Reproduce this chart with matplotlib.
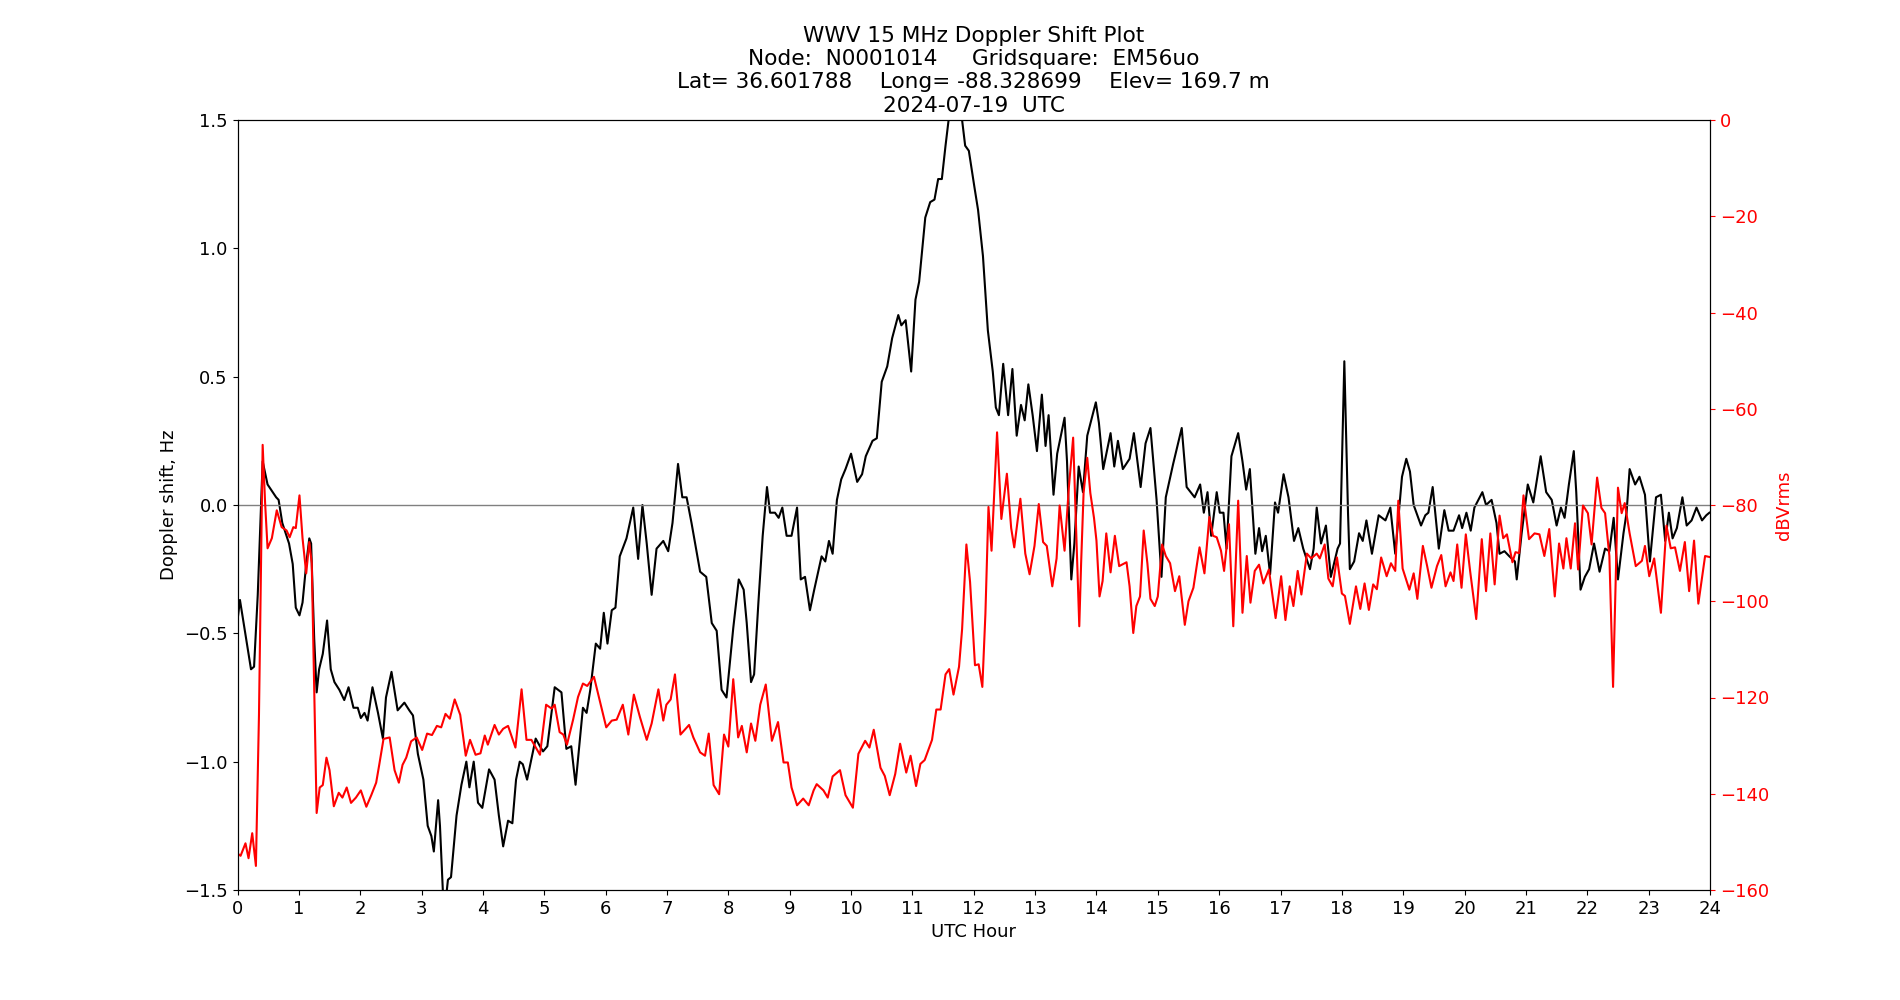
import matplotlib
matplotlib.use("Agg")
import matplotlib.pyplot as plt

plt.rcParams["font.size"] = 13

# Doppler shift trace (UTC hour, Hz)
doppler_hours = [
    0.00, 0.04, 0.22, 0.27, 0.33, 0.41, 0.49, 0.63, 0.67, 0.73, 0.84, 0.90, 0.95, 1.01, 1.06,
    1.12, 1.17, 1.20, 1.25, 1.29, 1.33, 1.39, 1.46, 1.52, 1.58, 1.66, 1.74, 1.81, 1.89, 1.96,
    2.01, 2.07, 2.12, 2.20, 2.29, 2.37, 2.42, 2.51, 2.61, 2.72, 2.80, 2.86, 2.94, 3.03, 3.10,
    3.16, 3.20, 3.27, 3.30, 3.35, 3.39, 3.43, 3.48, 3.57, 3.65, 3.73, 3.78, 3.85, 3.92, 3.99,
    4.10, 4.19, 4.26, 4.33, 4.41, 4.48, 4.54, 4.60, 4.65, 4.72, 4.79, 4.86, 4.93, 4.98, 5.05,
    5.17, 5.28, 5.36, 5.44, 5.51, 5.63, 5.69, 5.75, 5.84, 5.91, 5.97, 6.03, 6.10, 6.16, 6.23,
    6.34, 6.45, 6.53, 6.60, 6.67, 6.75, 6.83, 6.94, 7.02, 7.09, 7.18, 7.25, 7.32, 7.40, 7.54,
    7.64, 7.73, 7.81, 7.89, 7.97, 8.08, 8.17, 8.25, 8.30, 8.37, 8.42, 8.49, 8.56, 8.63, 8.68,
    8.76, 8.82, 8.88, 8.95, 9.03, 9.12, 9.18, 9.25, 9.33, 9.40, 9.52, 9.58, 9.64, 9.70, 9.77,
    9.84, 9.91, 10.00, 10.10, 10.18, 10.24, 10.35, 10.42, 10.50, 10.59, 10.67, 10.77, 10.82,
    10.89, 10.98, 11.05, 11.11, 11.21, 11.29, 11.36, 11.42, 11.48, 11.54, 11.59, 11.65, 11.74,
    11.81, 11.86, 11.92, 12.01, 12.07, 12.15, 12.23, 12.31, 12.36, 12.41, 12.48, 12.56, 12.63,
    12.70, 12.77, 12.83, 12.89, 12.96, 13.03, 13.11, 13.17, 13.22, 13.30, 13.36, 13.48, 13.52,
    13.59, 13.64, 13.71, 13.78, 13.85, 13.99, 14.04, 14.11, 14.23, 14.29, 14.35, 14.43, 14.54,
    14.61, 14.72, 14.80, 14.88, 14.98, 15.06, 15.13, 15.25, 15.39, 15.47, 15.60, 15.69, 15.75,
    15.81, 15.87, 15.96, 16.01, 16.07, 16.12, 16.20, 16.31, 16.38, 16.44, 16.50, 16.59, 16.65,
    16.70, 16.76, 16.83, 16.91, 16.96, 17.05, 17.13, 17.22, 17.29, 17.37, 17.48, 17.54, 17.59,
    17.66, 17.74, 17.82, 17.93, 17.97, 18.04, 18.10, 18.13, 18.20, 18.28, 18.34, 18.40, 18.49,
    18.60, 18.71, 18.79, 18.87, 18.98, 19.05, 19.11, 19.17, 19.29, 19.36, 19.41, 19.48, 19.58,
    19.67, 19.74, 19.82, 19.91, 19.96, 20.03, 20.10, 20.16, 20.29, 20.35, 20.44, 20.52, 20.57,
    20.65, 20.73, 20.82, 20.85, 20.93, 21.03, 21.12, 21.24, 21.33, 21.42, 21.50, 21.57, 21.63,
    21.70, 21.78, 21.82, 21.89, 21.96, 22.03, 22.11, 22.20, 22.29, 22.36, 22.43, 22.50, 22.59,
    22.64, 22.69, 22.78, 22.85, 22.94, 23.02, 23.12, 23.20, 23.27, 23.33, 23.39, 23.46, 23.55,
    23.62, 23.70, 23.78, 23.87, 23.94, 23.99,
]
doppler_hz = [
    -0.45, -0.37, -0.64, -0.63, -0.35, 0.17, 0.08, 0.03, 0.02, -0.07, -0.15, -0.23, -0.40, -0.43, -0.38,
    -0.23, -0.13, -0.15, -0.52, -0.73, -0.64, -0.58, -0.45, -0.64, -0.69, -0.72, -0.76, -0.71, -0.79, -0.79,
    -0.83, -0.81, -0.84, -0.71, -0.81, -0.91, -0.75, -0.65, -0.80, -0.77, -0.80, -0.82, -0.97, -1.07, -1.25,
    -1.29, -1.35, -1.15, -1.25, -1.52, -1.55, -1.46, -1.45, -1.21, -1.09, -1.00, -1.10, -1.00, -1.16, -1.18,
    -1.03, -1.07, -1.21, -1.33, -1.23, -1.24, -1.07, -1.00, -1.01, -1.07, -0.99, -0.91, -0.94, -0.96, -0.94,
    -0.71, -0.73, -0.95, -0.94, -1.09, -0.79, -0.81, -0.72, -0.54, -0.56, -0.42, -0.54, -0.41, -0.40, -0.20,
    -0.13, -0.01, -0.21, 0.00, -0.15, -0.35, -0.17, -0.14, -0.18, -0.07, 0.16, 0.03, 0.03, -0.07, -0.26,
    -0.28, -0.46, -0.49, -0.72, -0.75, -0.48, -0.29, -0.33, -0.46, -0.69, -0.66, -0.38, -0.12, 0.07, -0.03,
    -0.03, -0.05, -0.01, -0.12, -0.12, -0.01, -0.29, -0.28, -0.41, -0.33, -0.20, -0.22, -0.14, -0.19, 0.02,
    0.10, 0.14, 0.20, 0.09, 0.12, 0.19, 0.25, 0.26, 0.48, 0.54, 0.65, 0.74, 0.70,
    0.72, 0.52, 0.80, 0.87, 1.12, 1.18, 1.19, 1.27, 1.27, 1.40, 1.50, 1.56, 1.56,
    1.50, 1.40, 1.38, 1.24, 1.15, 0.97, 0.68, 0.52, 0.38, 0.35, 0.55, 0.35, 0.53,
    0.27, 0.39, 0.33, 0.47, 0.35, 0.21, 0.43, 0.23, 0.35, 0.04, 0.20, 0.34, 0.17,
    -0.29, -0.15, 0.15, 0.05, 0.27, 0.40, 0.32, 0.14, 0.28, 0.15, 0.25, 0.14, 0.18,
    0.28, 0.07, 0.24, 0.30, 0.02, -0.28, 0.03, 0.16, 0.30, 0.07, 0.03, 0.08, -0.03,
    0.05, -0.12, 0.05, -0.03, -0.03, -0.17, 0.19, 0.28, 0.17, 0.06, 0.14, -0.19, -0.09,
    -0.18, -0.12, -0.27, 0.01, -0.03, 0.12, 0.03, -0.14, -0.09, -0.17, -0.25, -0.17, -0.01,
    -0.15, -0.08, -0.28, -0.17, -0.15, 0.56, -0.03, -0.25, -0.22, -0.11, -0.14, -0.06, -0.19,
    -0.04, -0.06, -0.01, -0.19, 0.11, 0.18, 0.13, 0.00, -0.08, -0.04, -0.03, 0.07, -0.17,
    -0.02, -0.10, -0.10, -0.04, -0.09, -0.03, -0.10, -0.01, 0.05, 0.00, 0.02, -0.07, -0.19,
    -0.18, -0.20, -0.22, -0.29, -0.11, 0.08, 0.01, 0.19, 0.05, 0.02, -0.08, -0.01, -0.05,
    0.08, 0.21, 0.05, -0.33, -0.28, -0.25, -0.15, -0.26, -0.17, -0.18, -0.05, -0.29, -0.11,
    -0.03, 0.14, 0.08, 0.11, 0.04, -0.22, 0.03, 0.04, -0.14, -0.03, -0.13, -0.09, 0.03,
    -0.08, -0.06, -0.01, -0.06, -0.04, -0.03,
]

# Received signal level trace (UTC hour, dBVrms)
power_hours = [
    0.00, 0.05, 0.13, 0.18, 0.24, 0.30, 0.35, 0.41, 0.45, 0.49, 0.56, 0.64, 0.72, 0.80, 0.85,
    0.91, 0.95, 1.01, 1.06, 1.12, 1.17, 1.21, 1.25, 1.29, 1.34, 1.39, 1.45, 1.50, 1.57, 1.65,
    1.71, 1.78, 1.85, 1.93, 2.01, 2.10, 2.18, 2.26, 2.31, 2.38, 2.48, 2.56, 2.63, 2.69, 2.75,
    2.83, 2.92, 3.01, 3.09, 3.17, 3.25, 3.32, 3.39, 3.46, 3.54, 3.63, 3.72, 3.79, 3.88, 3.96,
    4.03, 4.08, 4.19, 4.26, 4.33, 4.41, 4.53, 4.63, 4.71, 4.79, 4.93, 5.03, 5.12, 5.17, 5.25,
    5.31, 5.37, 5.47, 5.55, 5.63, 5.70, 5.81, 5.92, 6.01, 6.10, 6.18, 6.28, 6.37, 6.46, 6.56,
    6.67, 6.75, 6.86, 6.94, 6.99, 7.06, 7.13, 7.22, 7.36, 7.43, 7.54, 7.62, 7.68, 7.76, 7.85,
    7.93, 8.00, 8.08, 8.16, 8.22, 8.30, 8.37, 8.44, 8.52, 8.61, 8.71, 8.81, 8.90, 8.97, 9.03,
    9.12, 9.22, 9.31, 9.39, 9.44, 9.55, 9.62, 9.70, 9.82, 9.91, 10.03, 10.12, 10.23, 10.30,
    10.37, 10.48, 10.55, 10.63, 10.72, 10.80, 10.90, 10.97, 11.06, 11.13, 11.20, 11.32, 11.39,
    11.46, 11.54, 11.60, 11.67, 11.76, 11.81, 11.88, 11.94, 12.02, 12.08, 12.14, 12.19, 12.24,
    12.29, 12.38, 12.45, 12.54, 12.61, 12.66, 12.76, 12.84, 12.91, 12.99, 13.06, 13.13, 13.19,
    13.28, 13.35, 13.40, 13.48, 13.55, 13.62, 13.67, 13.72, 13.75, 13.79, 13.85, 13.90, 13.96,
    14.00, 14.05, 14.10, 14.16, 14.23, 14.30, 14.37, 14.49, 14.54, 14.60, 14.65, 14.71, 14.77,
    14.83, 14.88, 14.95, 15.00, 15.07, 15.13, 15.20, 15.28, 15.35, 15.44, 15.50, 15.58, 15.68,
    15.76, 15.84, 15.90, 15.96, 16.03, 16.08, 16.16, 16.23, 16.31, 16.38, 16.45, 16.51, 16.58,
    16.65, 16.72, 16.81, 16.92, 17.01, 17.08, 17.15, 17.21, 17.28, 17.34, 17.43, 17.50, 17.59,
    17.64, 17.72, 17.78, 17.85, 17.92, 18.00, 18.05, 18.13, 18.23, 18.30, 18.37, 18.44, 18.51,
    18.57, 18.64, 18.73, 18.80, 18.87, 18.92, 18.99, 19.10, 19.17, 19.23, 19.32, 19.39, 19.46,
    19.55, 19.62, 19.69, 19.77, 19.82, 19.88, 19.95, 20.02, 20.09, 20.19, 20.28, 20.35, 20.42,
    20.49, 20.57, 20.63, 20.69, 20.78, 20.83, 20.89, 20.96, 21.05, 21.14, 21.22, 21.30, 21.38,
    21.47, 21.54, 21.61, 21.66, 21.73, 21.80, 21.85, 21.93, 22.01, 22.07, 22.16, 22.23, 22.29,
    22.36, 22.42, 22.47, 22.50, 22.56, 22.61, 22.69, 22.79, 22.89, 22.94, 23.01, 23.09, 23.20,
    23.29, 23.36, 23.43, 23.51, 23.59, 23.66, 23.74, 23.81, 23.92, 23.99,
]
power_db = [
    -152.4, -152.9, -150.3, -153.4, -148.2, -155.0, -123.6, -67.5, -79.6, -89.0, -86.9, -81.1, -84.6, -85.3, -86.7,
    -84.6, -84.8, -78.0, -86.9, -94.2, -87.7, -92.1, -118.3, -144.0, -138.7, -138.2, -132.5, -135.1, -142.6, -139.8,
    -140.8, -138.7, -141.9, -140.8, -139.3, -142.7, -140.3, -137.7, -134.0, -128.6, -128.3, -135.1, -137.7, -134.0, -132.5,
    -129.1, -128.3, -130.9, -127.5, -127.8, -125.9, -126.2, -123.4, -124.4, -120.4, -123.6, -132.1, -128.8, -131.9, -131.6,
    -127.9, -129.8, -125.7, -127.7, -126.5, -125.9, -130.4, -118.3, -128.8, -128.8, -131.9, -121.5, -122.3, -121.5, -127.2,
    -127.7, -129.8, -124.6, -119.9, -117.1, -117.6, -115.7, -121.5, -126.2, -124.8, -124.6, -121.5, -127.7, -119.4, -124.1,
    -128.8, -125.4, -118.3, -124.8, -121.5, -120.4, -115.2, -127.7, -125.7, -128.3, -131.4, -132.1, -127.5, -138.2, -140.1,
    -127.7, -130.2, -116.2, -128.3, -125.9, -131.4, -125.4, -129.0, -121.5, -117.3, -129.0, -125.1, -133.5, -133.5, -138.7,
    -142.4, -141.0, -142.4, -139.3, -138.0, -139.3, -140.8, -136.4, -135.1, -140.3, -142.9, -131.7, -129.0, -130.4,
    -126.7, -134.6, -136.3, -140.3, -135.9, -129.6, -135.6, -132.1, -138.4, -133.8, -133.0, -128.8, -122.5,
    -122.5, -115.2, -114.1, -119.4, -113.6, -105.8, -88.2, -96.0, -113.3, -113.1, -117.8, -102.6, -80.4,
    -89.5, -64.9, -82.9, -73.5, -84.8, -88.8, -78.7, -90.1, -94.4, -88.5, -79.8, -87.7, -88.5,
    -96.9, -91.1, -80.1, -89.5, -76.4, -66.0, -85.9, -105.2, -92.1, -77.5, -70.2, -77.5, -82.7,
    -87.4, -99.0, -95.8, -85.9, -94.0, -86.4, -92.7, -91.9, -96.9, -106.6, -101.0, -99.0, -85.3,
    -92.1, -99.5, -101.0, -99.0, -88.2, -90.6, -92.1, -97.9, -94.8, -104.9, -100.0, -97.2, -88.8,
    -94.2, -82.5, -86.4, -86.7, -89.5, -93.7, -84.0, -105.2, -79.1, -102.4, -90.6, -100.3, -93.7,
    -92.4, -96.3, -93.4, -103.5, -94.8, -103.9, -96.9, -101.0, -93.7, -98.6, -90.1, -91.1, -90.1,
    -91.1, -88.2, -95.3, -96.9, -90.9, -98.4, -98.9, -104.7, -96.9, -101.6, -96.3, -101.8, -96.5,
    -97.5, -90.9, -94.8, -92.1, -93.7, -79.1, -93.2, -97.6, -94.2, -99.5, -88.5, -92.7, -97.2,
    -92.7, -90.4, -96.9, -94.0, -95.8, -88.2, -97.2, -86.1, -93.7, -103.7, -87.1, -97.9, -85.9,
    -96.5, -82.2, -86.9, -86.1, -91.9, -89.8, -90.0, -78.0, -87.1, -85.9, -86.1, -90.6, -85.0,
    -99.0, -88.0, -93.2, -86.9, -93.2, -83.8, -93.4, -80.1, -81.7, -88.2, -74.3, -80.6, -81.7,
    -90.6, -117.8, -92.1, -76.4, -81.7, -79.6, -85.9, -92.7, -91.6, -88.5, -94.8, -91.1, -102.4,
    -84.3, -89.0, -88.8, -93.7, -87.7, -97.9, -87.4, -100.5, -90.6, -90.8,
]

hour_ticks = list(range(0, 25))

title_lines = [
    "WWV 15 MHz Doppler Shift Plot",
    "Node:  N0001014     Gridsquare:  EM56uo",
    "Lat= 36.601788    Long= -88.328699    Elev= 169.7 m",
    "2024-07-19  UTC",
]

fig, ax = plt.subplots(figsize=(19, 10), dpi=100)
ax.plot(doppler_hours, doppler_hz, color="black", lw=1.5)
ax.axhline(0, color="gray", lw=1)
ax.set_xlim(0, 24)
ax.set_ylim(-1.5, 1.5)
ax.set_xticks(hour_ticks)
ax.set_xlabel("UTC Hour")
ax.set_ylabel("Doppler shift, Hz")
ax.set_title("\n".join(title_lines))

ax2 = ax.twinx()
ax2.plot(power_hours, power_db, color="red", lw=1.5)
ax2.set_ylim(-160, 0)
ax2.set_ylabel("dBVrms", color="red")
ax2.tick_params(axis="y", colors="red")

fig.savefig("out.png", dpi=100)
